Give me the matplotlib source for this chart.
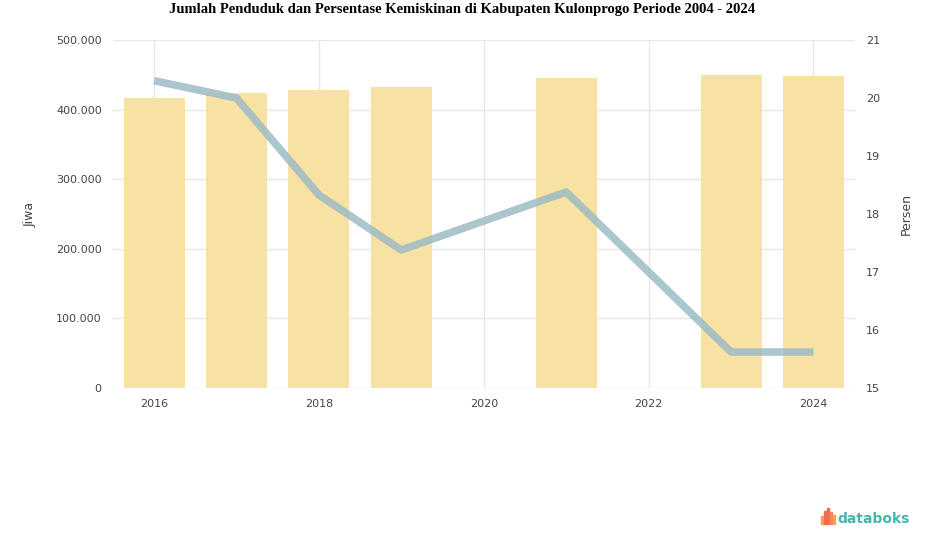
import numpy as np
import matplotlib.pyplot as plt
from matplotlib.patches import Rectangle

years = ['2016', '2017', '2018', '2019', '2020', '2021', '2022', '2023', '2024']
penduduk = [416500, 423500, 428500, 432500, 0, 445500, 0, 449500, 448500]
kemiskinan = [20.30, 20.00, 18.33, 17.38, np.nan, 18.38, np.nan, 15.62, 15.62]

fig = plt.figure(figsize=(9.25, 5.47), dpi=100)
ax = fig.add_axes([0.122, 0.2907, 0.802, 0.636])
ax2 = ax.twinx()

x = np.arange(len(years))
ax.bar(x, penduduk, width=0.74, color='#f7e1a3', zorder=2)

kem = np.array(kemiskinan)
ok = ~np.isnan(kem)
ax2.plot(x[ok], kem[ok], color='#9dbcc5', lw=5.5, alpha=0.85, solid_capstyle='butt', zorder=3)

ax.set_xlim(-0.5, len(years) - 0.5)
ax.set_ylim(0, 500000)
ax.set_yticks(np.arange(0, 500001, 100000))
ax.set_yticklabels([f'{v:,}'.replace(',', '.') for v in range(0, 500001, 100000)])
ax2.set_ylim(15, 21)
ax2.set_yticks(range(15, 22))

ax.set_xticks(x[::2])
ax.set_xticklabels(years[::2])

ax.grid(True, color='#e8e8e8', lw=1, zorder=0)
ax.set_axisbelow(True)
for a in (ax, ax2):
    for s in a.spines.values():
        s.set_visible(False)
    a.tick_params(length=0, labelsize=8, colors='#444444', pad=8)

ax.set_ylabel('Jiwa', fontsize=9, color='#444444', labelpad=14)
ax2.set_ylabel('Persen', fontsize=9, color='#444444', labelpad=14)

fig.suptitle('Jumlah Penduduk dan Persentase Kemiskinan di Kabupaten Kulonprogo Periode 2004 - 2024',
             fontsize=10.5, fontweight='bold', family='Liberation Serif', y=0.995)

# databoks mark
fig.text(0.984, 0.052, 'databoks', fontsize=10, color='#45b5ad', fontweight='bold',
         ha='right', va='center')
icon_h = [0.014, 0.024, 0.030, 0.022, 0.016]
icon_c = ['#f5a25d', '#ee6b4d', '#ee6b4d', '#f08a5d', '#f5a25d']
for i, (h, c) in enumerate(zip(icon_h, icon_c)):
    fig.patches.append(Rectangle((0.888 + i * 0.0032, 0.042), 0.0018, h,
                                 transform=fig.transFigure, color=c))

fig.savefig('out.png', dpi=100)
